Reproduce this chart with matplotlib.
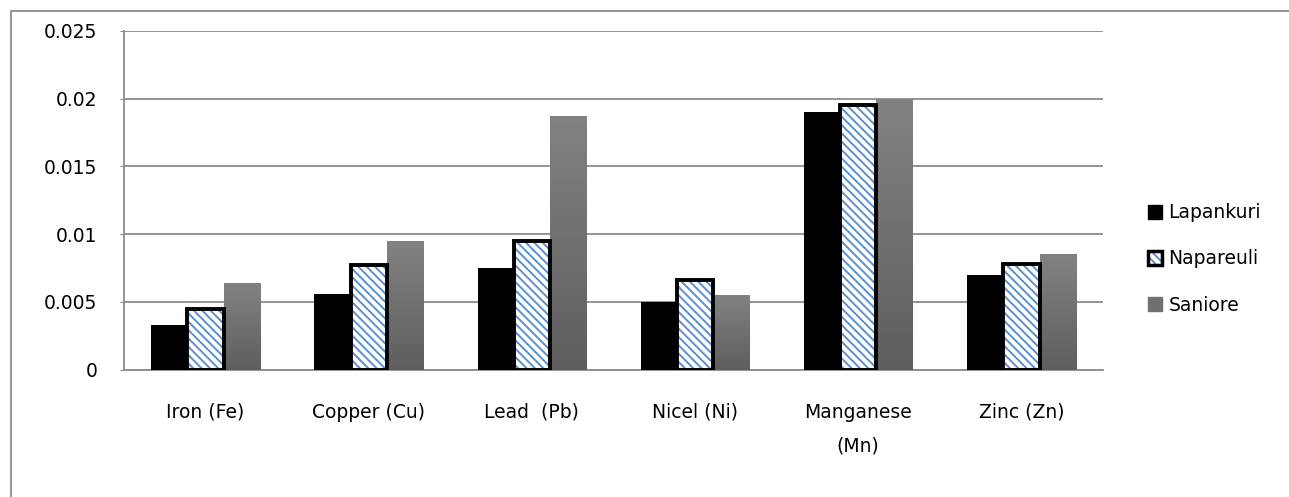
import numpy as np
import matplotlib
matplotlib.use("Agg")
import matplotlib.pyplot as plt
from matplotlib.patches import Patch, Rectangle
from matplotlib.legend_handler import HandlerTuple
from matplotlib.colors import LinearSegmentedColormap

categories = ["Iron (Fe)", "Copper (Cu)", "Lead  (Pb)", "Nicel (Ni)", "Manganese\n(Mn)", "Zinc (Zn)"]
series_names = ["Lapankuri", "Napareuli", "Saniore"]
lapankuri = [0.0033, 0.0056, 0.0075, 0.0050, 0.0190, 0.0070]
napareuli = [0.0045, 0.0077, 0.0095, 0.0066, 0.0195, 0.0078]
saniore = [0.0064, 0.0095, 0.0187, 0.0055, 0.0200, 0.0085]
yticks = [0, 0.005, 0.01, 0.015, 0.02, 0.025]
ytick_labels = ["0", "0.005", "0.01", "0.015", "0.02", "0.025"]

plt.rcParams["font.family"] = ["DejaVu Sans"]
plt.rcParams["hatch.linewidth"] = 1.4
FS = 13.5

W, H = 1289, 497
fig = plt.figure(figsize=(W / 100, H / 100), dpi=100)
ax = fig.add_axes([124 / W, 1 - 369.5 / H, (1103 - 124) / W, (369.5 - 31) / H])

grid_c = "#8c8c8c"
x = np.arange(len(categories))
bw = 1 / 4.5
blue = "#5a8fd0"
HATCH = "\\\\\\\\"

ax.bar(x - bw, lapankuri, bw, color="black", zorder=3)
ax.bar(x, napareuli, bw, facecolor="white", edgecolor=blue, hatch=HATCH, linewidth=0, zorder=3)
ax.bar(x, napareuli, bw, fill=False, edgecolor="black", linewidth=2.8, zorder=4)
sbars = ax.bar(x + bw, saniore, bw, color="#707070", zorder=3)

cmap = LinearSegmentedColormap.from_list("g", ["#5e5e5e", "#828282"])
grad = np.linspace(0, 1, 256).reshape(-1, 1)
for b in sbars:
    x0, y0 = b.get_x(), b.get_y()
    im = ax.imshow(grad, cmap=cmap, origin="lower", aspect="auto",
                   extent=[x0, x0 + b.get_width(), y0, y0 + b.get_height()], zorder=3.5)
    im.set_clip_path(b)

ax.set_xlim(-0.5, len(categories) - 0.5)
ax.set_ylim(0, 0.025)
ax.set_yticks(yticks)
ax.set_yticklabels(ytick_labels)
ax.set_xticks(x)
ax.set_xticklabels(categories, linespacing=2.0)
ax.yaxis.grid(True, color=grid_c, linewidth=1.3, zorder=0)
ax.set_axisbelow(True)
for s in ["top", "right"]:
    ax.spines[s].set_visible(False)
for s in ["left", "bottom"]:
    ax.spines[s].set_color(grid_c)
    ax.spines[s].set_linewidth(1.3)
ax.tick_params(axis="y", length=3, color=grid_c, pad=16, labelsize=FS)
ax.tick_params(axis="x", length=0, pad=24, labelsize=FS)

h_lap = Patch(facecolor="black", edgecolor="black")
h_nap = (Patch(facecolor="white", edgecolor=blue, hatch=HATCH, linewidth=0),
         Patch(fill=False, edgecolor="black", linewidth=2.5))
h_san = Patch(facecolor="#707070", edgecolor="#707070")
leg = fig.legend([h_lap, h_nap, h_san], series_names,
                 handler_map={tuple: HandlerTuple(ndivide=1, pad=0)},
                 loc="center left", bbox_to_anchor=(1148 / W, 1 - 259 / H),
                 frameon=False, fontsize=FS, handlelength=0.75, handleheight=0.75,
                 handletextpad=0.35, labelspacing=1.45, borderpad=0, borderaxespad=0)

fig.add_artist(Rectangle((10.5 / W, -0.1), 1.2, (1 - 10.5 / H) + 0.1, transform=fig.transFigure,
                         fill=False, edgecolor="#8c8c8c", linewidth=1.3, clip_on=False))

fig.savefig("out.png", dpi=100)
